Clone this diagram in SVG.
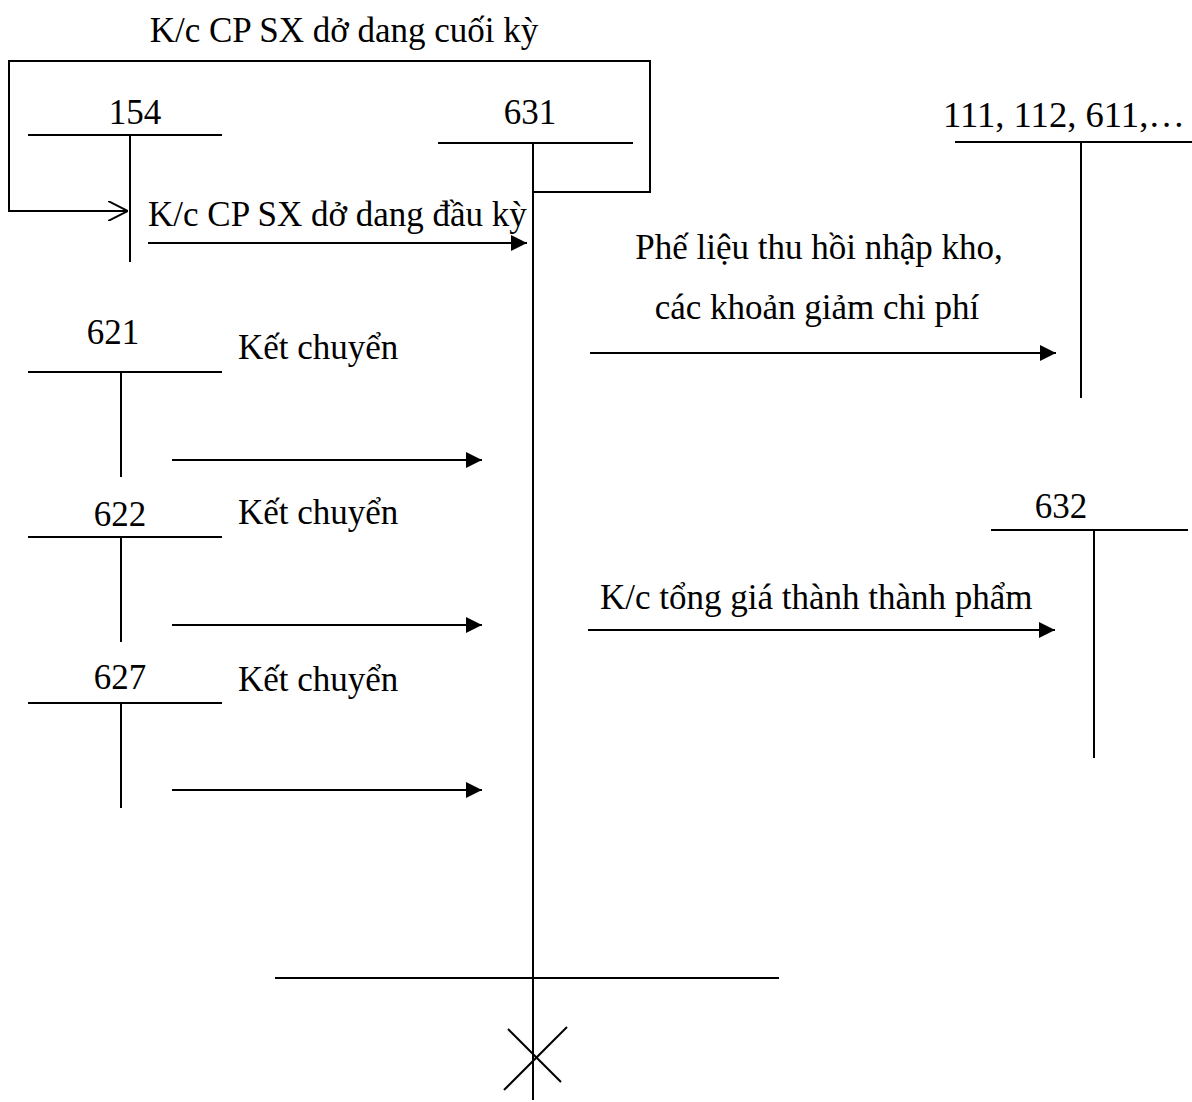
<svg xmlns="http://www.w3.org/2000/svg" width="1192" height="1102" viewBox="0 0 1192 1102">
<defs>
<marker id="ah" viewBox="0 0 10 10" refX="10" refY="5" markerWidth="16" markerHeight="16" markerUnits="userSpaceOnUse" orient="auto"><path d="M0,0 L10,5 L0,10 z" fill="#000"/></marker>
<marker id="oh" viewBox="0 0 10 10" refX="10" refY="5" markerWidth="20" markerHeight="20" markerUnits="userSpaceOnUse" orient="auto"><path d="M0,0 L10,5 L0,10" fill="none" stroke="#000" stroke-width="1"/></marker>
</defs>
<style>
text{font-family:"Liberation Serif","Times New Roman",serif;font-size:35px;fill:#000}
line,polyline{stroke:#000;stroke-width:2;fill:none}
</style>
<rect width="1192" height="1102" fill="#fff"/>
<g id="acc154">
<text x="135" y="124" text-anchor="middle">154</text>
<line x1="28" y1="135" x2="222" y2="135"/>
<line x1="130" y1="135" x2="130" y2="262"/>
</g>
<g id="acc631">
<text x="530" y="124" text-anchor="middle">631</text>
<line x1="438" y1="143" x2="633" y2="143"/>
<line x1="533" y1="143" x2="533" y2="1100"/>
<line x1="275" y1="978" x2="779" y2="978"/>
<line x1="508" y1="1029" x2="561" y2="1082"/>
<line x1="504" y1="1090" x2="567" y2="1027"/>
</g>
<g id="acc621">
<text x="113" y="344" text-anchor="middle">621</text>
<line x1="28" y1="372" x2="222" y2="372"/>
<line x1="121" y1="372" x2="121" y2="477"/>
</g>
<g id="acc622">
<text x="120" y="526" text-anchor="middle">622</text>
<line x1="28" y1="537" x2="222" y2="537"/>
<line x1="121" y1="537" x2="121" y2="642"/>
</g>
<g id="acc627">
<text x="120" y="689" text-anchor="middle">627</text>
<line x1="28" y1="703" x2="222" y2="703"/>
<line x1="121" y1="703" x2="121" y2="808"/>
</g>
<g id="acc111">
<text x="943" y="127" textLength="242" lengthAdjust="spacingAndGlyphs">111, 112, 611,…</text>
<line x1="955" y1="142" x2="1192" y2="142"/>
<line x1="1081" y1="142" x2="1081" y2="398"/>
</g>
<g id="acc632">
<text x="1061" y="518" text-anchor="middle">632</text>
<line x1="991" y1="530" x2="1188" y2="530"/>
<line x1="1094" y1="530" x2="1094" y2="758"/>
</g>
<g id="connectors">
<polyline points="533,192 650,192 650,61 9,61 9,211 128,211" marker-end="url(#oh)"/>
<text x="344" y="42" text-anchor="middle">K/c CP SX dở dang cuối kỳ</text>
<line x1="148" y1="243" x2="527" y2="243" marker-end="url(#ah)"/>
<text x="148" y="226">K/c CP SX dở dang đầu kỳ</text>
<line x1="172" y1="460" x2="482" y2="460" marker-end="url(#ah)"/>
<text x="238" y="359">Kết chuyển</text>
<line x1="172" y1="625" x2="482" y2="625" marker-end="url(#ah)"/>
<text x="238" y="524">Kết chuyển</text>
<line x1="172" y1="790" x2="482" y2="790" marker-end="url(#ah)"/>
<text x="238" y="691">Kết chuyển</text>
<line x1="590" y1="353" x2="1056" y2="353" marker-end="url(#ah)"/>
<text x="819" y="259" text-anchor="middle">Phế liệu thu hồi nhập kho,</text>
<text x="817" y="319" text-anchor="middle">các khoản giảm chi phí</text>
<line x1="588" y1="630" x2="1055" y2="630" marker-end="url(#ah)"/>
<text x="600" y="609">K/c tổng giá thành thành phẩm</text>
</g>
</svg>
